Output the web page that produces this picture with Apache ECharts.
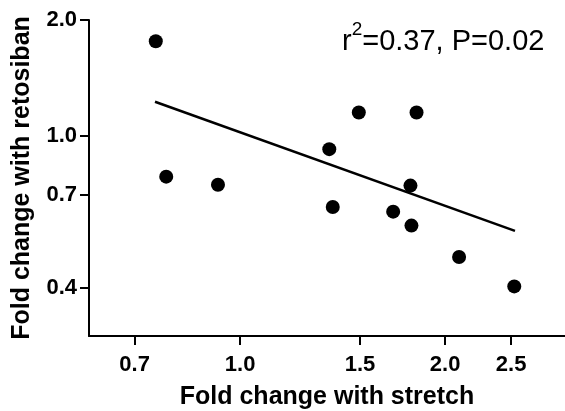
<!DOCTYPE html>
<html><head><meta charset="utf-8">
<script src="https://cdn.jsdelivr.net/npm/echarts@6/dist/echarts.min.js"></script>
<style>html,body{margin:0;padding:0;background:#fff}#c{width:565px;height:411px}</style>
</head><body><div id="c"></div>
<script>
// Data (log-log axes)
const stretchFold   = [0.752, 0.779, 0.928, 1.352, 1.368, 1.494, 1.678, 1.779, 1.785, 1.816, 2.097, 2.527];
const retosibanFold = [1.760, 0.781, 0.744, 0.921, 0.651, 1.148, 0.633, 0.740, 0.582, 1.148, 0.482, 0.404];
const fitLineX = [0.750, 2.533];
const fitLineY = [1.224, 0.564];
const xTickValues = [0.7, 1.0, 1.5, 2.0, 2.5];
const yTickValues = [0.4, 0.7, 1.0, 2.0];
const xRange = [0.6, 3.0];
const yRange = [0.3, 2.0];
const annotation = '{m|r}{s|2}{m|=0.37, P=0.02}';

const lg = Math.log10;
const FONT = 'Liberation Sans, Arial, sans-serif';
const fmt = v => Math.pow(10, v).toFixed(1);

const chart = echarts.init(document.getElementById('c'));
const axisCommon = {
  type: 'value',
  splitLine: {show: false},
  axisLine: {show: true, onZero: false, lineStyle: {color: '#000', width: 2}},
  axisTick: {show: true, length: 9, lineStyle: {color: '#000', width: 2}},
  axisLabel: {color: '#000', fontFamily: FONT, fontWeight: 'bold', fontSize: 22, formatter: fmt},
  nameLocation: 'middle',
  nameTextStyle: {color: '#000', fontFamily: FONT, fontWeight: 'bold', fontSize: 25}
};
chart.setOption({
  animation: false,
  backgroundColor: '#fff',
  grid: {left: 89, right: 0, top: 20, bottom: 75, containLabel: false, outerBoundsMode: 'none'},
  xAxis: Object.assign({}, axisCommon, {
    min: lg(xRange[0]), max: lg(xRange[1]),
    name: 'Fold change with stretch', nameGap: 49,
    axisTick: Object.assign({}, axisCommon.axisTick, {customValues: xTickValues.map(lg)}),
    axisLabel: Object.assign({}, axisCommon.axisLabel, {customValues: xTickValues.map(lg), margin: 18})
  }),
  yAxis: Object.assign({}, axisCommon, {
    min: lg(yRange[0]), max: lg(yRange[1]),
    name: 'Fold change with retosiban', nameGap: 54, nameRotate: 90,
    axisTick: Object.assign({}, axisCommon.axisTick, {customValues: yTickValues.map(lg)}),
    axisLabel: Object.assign({}, axisCommon.axisLabel, {customValues: yTickValues.map(lg), margin: 12})
  }),
  graphic: [{
    type: 'text', left: 342, top: 20,
    style: {
      text: annotation,
      fill: '#000',
      rich: {
        m: {fontFamily: FONT, fontSize: 29, lineHeight: 36, verticalAlign: 'bottom', fill: '#000'},
        s: {fontFamily: FONT, fontSize: 19, lineHeight: 12, verticalAlign: 'top', fill: '#000'}
      }
    }
  }],
  series: [
    {
      type: 'line', silent: true, symbol: 'none',
      lineStyle: {color: '#000', width: 2.5},
      data: fitLineX.map((x, i) => [lg(x), lg(fitLineY[i])]),
      z: 1
    },
    {
      type: 'scatter', symbol: 'circle', symbolSize: 14,
      itemStyle: {color: '#000', opacity: 1},
      data: stretchFold.map((x, i) => [lg(x), lg(retosibanFold[i])]),
      z: 2
    }
  ]
});
</script></body></html>
